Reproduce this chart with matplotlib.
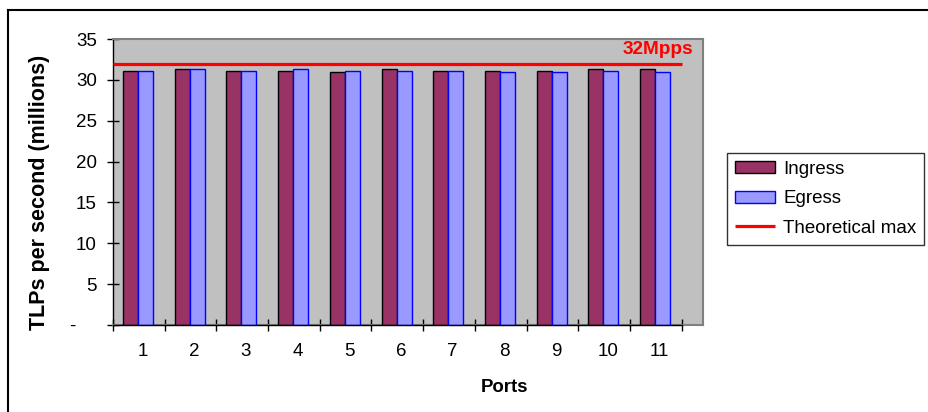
import numpy as np
import matplotlib
matplotlib.use("Agg")
import matplotlib.pyplot as plt
from matplotlib.lines import Line2D

plt.rcParams['font.family'] = ['Liberation Sans', 'DejaVu Sans']

ports = [1, 2, 3, 4, 5, 6, 7, 8, 9, 10, 11]
ingress = [31.1, 31.3, 31.1, 31.1, 31.0, 31.3, 31.1, 31.1, 31.1, 31.3, 31.3]
egress = [31.1, 31.3, 31.1, 31.3, 31.1, 31.1, 31.1, 31.0, 31.0, 31.1, 31.0]
theoretical_max = 32
max_label = '32Mpps'
y_ticks = [0, 5, 10, 15, 20, 25, 30, 35]
# zero shown as an accounting-style dash
y_tick_labels = ['-    ', '5', '10', '15', '20', '25', '30', '35']

fs = 13.5

fig = plt.figure(figsize=(9.29, 4.12), dpi=100)
ax = fig.add_axes([0.1216, 0.2112, 0.635, 0.6941])
ax.set_facecolor('#C0C0C0')

x = np.arange(len(ports)) + 1
w = 0.29
b1 = ax.bar(x - 0.16, ingress, w, color='#993366', edgecolor='black', linewidth=1,
            label='Ingress', zorder=3)
b2 = ax.bar(x + 0.13, egress, w, color='#9999FF', edgecolor='#0000FF', linewidth=1,
            label='Egress', zorder=3)

left, right = x[0] - 0.5, x[-1] + 0.5
ln = ax.hlines(theoretical_max, left, right, color='#FF0000', linewidth=2.3,
               label='Theoretical max', zorder=4)
ax.text(right + 0.23, theoretical_max + 1.7, max_label, color='#FF0000',
        fontsize=13.7, fontweight='bold', ha='right', va='center')

ax.set_xlim(left, right + 0.41)
ax.set_ylim(0, 35)

# plot area frame: gray on top/right/bottom, black axis lines
for side in ['top', 'right', 'bottom']:
    ax.spines[side].set_color('#808080')
    ax.spines[side].set_linewidth(1.5)
ax.spines['left'].set_color('black')
ax.spines['left'].set_linewidth(1)
ax.plot([left, right], [0, 0], color='black', linewidth=1, zorder=5, clip_on=False)

ax.set_yticks(y_ticks)
ax.set_yticklabels(y_tick_labels)
ax.tick_params(axis='y', direction='inout', length=9, width=1, pad=7, labelsize=fs)

ax.set_xticks(np.append(x - 0.5, right))
ax.set_xticklabels([])
ax.set_xticks(x + 0.07, minor=True)
ax.set_xticklabels([str(p) for p in ports], minor=True)
ax.tick_params(axis='x', which='major', direction='inout', length=9, width=1)
ax.tick_params(axis='x', which='minor', length=0, pad=13, labelsize=fs)

ax.set_ylabel('TLPs per second (millions)', fontsize=15.5, fontweight='bold')
ax.yaxis.set_label_coords(-0.107, 0.465)
ax.set_xlabel('Ports', fontsize=13.4, fontweight='bold')
ax.xaxis.set_label_coords(0.664, -0.19)

leg = fig.legend([b1, b2, ln], ['Ingress', 'Egress', 'Theoretical max'],
                 loc='upper left', bbox_to_anchor=(727 / 929, 1 - 153 / 412),
                 fontsize=fs, frameon=True, fancybox=False, shadow=False,
                 edgecolor='black', handlelength=2.13, handleheight=0.6,
                 handletextpad=0.45, labelspacing=0.66, borderpad=0.42,
                 borderaxespad=0)
leg.get_frame().set_linewidth(1)

# chart border on the left and top
fig.add_artist(Line2D([8 / 929, 8 / 929], [0, 1 - 10 / 412], color='black',
                      linewidth=1.5, transform=fig.transFigure))
fig.add_artist(Line2D([8 / 929, 1], [1 - 10 / 412, 1 - 10 / 412], color='black',
                      linewidth=1.5, transform=fig.transFigure))

fig.savefig('out.png', dpi=100)
